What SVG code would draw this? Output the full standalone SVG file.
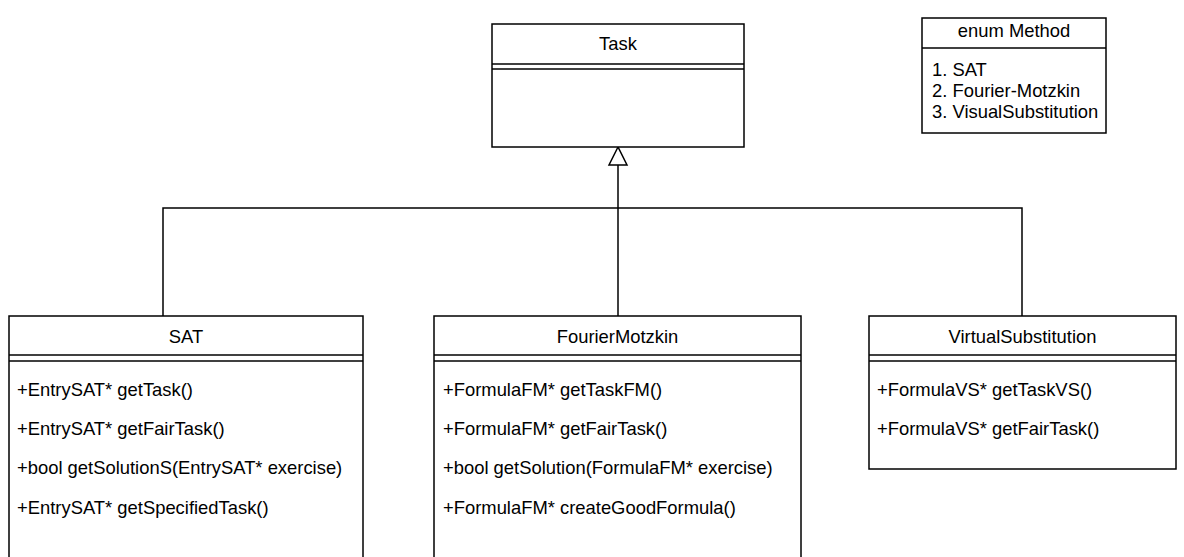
<svg xmlns="http://www.w3.org/2000/svg" width="1184" height="557" viewBox="0 0 1184 557">
<style>
.box{fill:#fff;stroke:#000;stroke-width:1.5}
.ln{stroke:#000;stroke-width:1.5;fill:none}
text{font-family:"Liberation Sans",Arial,sans-serif;font-size:18.4px;fill:#000}
.c{text-anchor:middle}
</style>
<rect width="1184" height="557" fill="#fff"/>
<g id="connectors">
<polyline class="ln" points="163,316 163,208 1022,208 1022,316"/>
<line class="ln" x1="618" y1="316" x2="618" y2="165"/>
<polygon points="618,147 609,165 627,165" fill="#fff" stroke="#000" stroke-width="1.5"/>
</g>
<g id="task">
<rect class="box" x="492" y="24" width="252" height="123"/>
<line class="ln" x1="492" y1="64" x2="744" y2="64"/>
<line class="ln" x1="492" y1="69" x2="744" y2="69"/>
<text class="c" x="618" y="50">Task</text>
</g>
<g id="enum">
<rect class="box" x="922" y="18" width="184" height="115"/>
<line class="ln" x1="922" y1="48" x2="1106" y2="48"/>
<text class="c" x="1014" y="37">enum Method</text>
<text x="932" y="76">1. SAT</text>
<text x="932" y="97">2. Fourier-Motzkin</text>
<text x="932" y="118">3. VisualSubstitution</text>
</g>
<g id="sat">
<rect class="box" x="9" y="316" width="354" height="250"/>
<line class="ln" x1="9" y1="355" x2="363" y2="355"/>
<line class="ln" x1="9" y1="361" x2="363" y2="361"/>
<text class="c" x="186" y="343">SAT</text>
<text x="17" y="396">+EntrySAT* getTask()</text>
<text x="17" y="435">+EntrySAT* getFairTask()</text>
<text x="17" y="474">+bool getSolutionS(EntrySAT* exercise)</text>
<text x="17" y="514">+EntrySAT* getSpecifiedTask()</text>
</g>
<g id="fm">
<rect class="box" x="434" y="316" width="367" height="250"/>
<line class="ln" x1="434" y1="355" x2="801" y2="355"/>
<line class="ln" x1="434" y1="361" x2="801" y2="361"/>
<text class="c" x="617.5" y="343">FourierMotzkin</text>
<text x="443" y="396">+FormulaFM* getTaskFM()</text>
<text x="443" y="435">+FormulaFM* getFairTask()</text>
<text x="443" y="474">+bool getSolution(FormulaFM* exercise)</text>
<text x="443" y="514">+FormulaFM* createGoodFormula()</text>
</g>
<g id="vs">
<rect class="box" x="869" y="316" width="307" height="153"/>
<line class="ln" x1="869" y1="355" x2="1176" y2="355"/>
<line class="ln" x1="869" y1="361" x2="1176" y2="361"/>
<text class="c" x="1022.5" y="343">VirtualSubstitution</text>
<text x="877" y="396">+FormulaVS* getTaskVS()</text>
<text x="877" y="435">+FormulaVS* getFairTask()</text>
</g>
</svg>
